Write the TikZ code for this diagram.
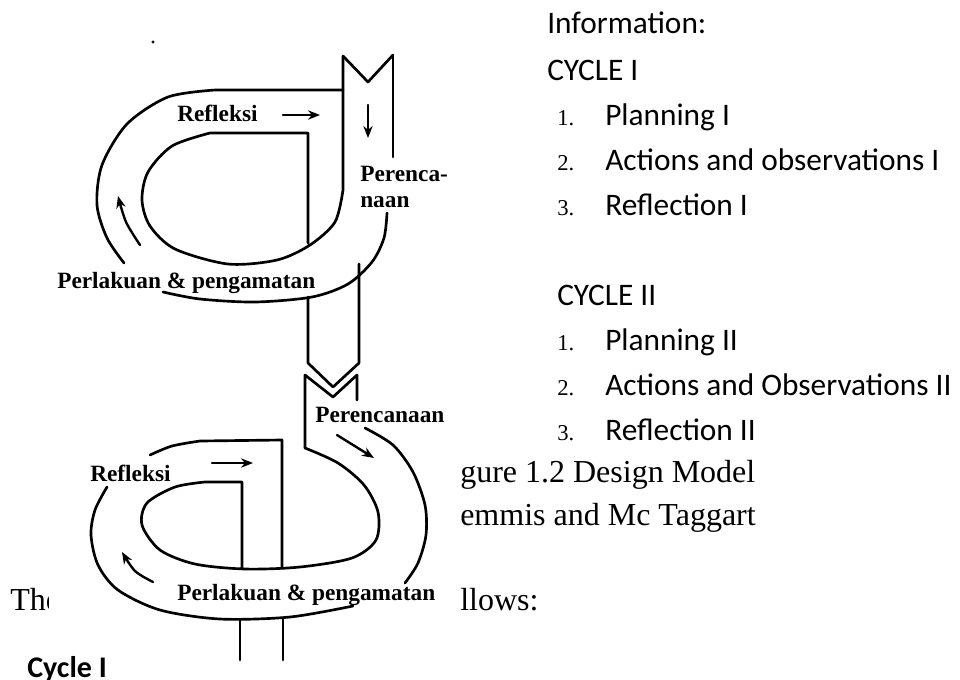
\documentclass[tikz,border=0pt]{standalone}
\usepackage{fontspec}
\setmainfont{Liberation Serif}
\newfontfamily\calfont{Carlito}
\usetikzlibrary{arrows.meta}

\begin{document}
\begin{tikzpicture}[x=0.75pt, y=-0.75pt,
	tube/.style={line width=2pt, line cap=round, line join=round},
	flow/.style={line width=1.8pt, line cap=round, -{Stealth[length=9pt,width=7pt]}},
	looplabel/.style={anchor=base west, inner sep=0pt, font=\bfseries\fontsize{17.5}{20}\selectfont},
	info/.style={anchor=base west, inner sep=0pt, font=\calfont\fontsize{23.5}{28}\selectfont},
	num/.style={anchor=base west, inner sep=0pt, font=\fontsize{17}{20}\selectfont},
	caption/.style={anchor=base west, inner sep=0pt, font=\fontsize{24}{28}\selectfont}]

	\useasboundingbox (0,0) rectangle (960,679);

	% cycle I loop
	\draw[tube] (343,90) -- plot[smooth] coordinates {(215,90) (168,97) (127,124) (102,165) (97,205) (107,238) (124,263)};
	\draw[tube] (343,56) -- plot[smooth] coordinates {(343,190) (335,222) (310,245) (277,260) (228,264) (175,249) (150,226) (142,200) (148,172) (172,146) (210,133)} -- (308,133) -- (308,243);
	\draw[tube] plot[smooth] coordinates {(387,213) (384,238) (372,262) (348,284) (312,297) (255,302) (200,299) (163,292)};
	\draw[tube] (343,56) -- (368,82) -- (393,55);
	\draw[tube] (393,55) -- (393,157);
	\draw[fill=black] (153,42) circle(1.2);

	% tube between the cycles
	\draw[tube] (308,297) -- (308,363) -- (333,387) -- (359,363) -- (359,264);
	\draw[tube] (305,448) -- (305,375) -- (333,397) -- (357,375) -- (357,400);

	% cycle II loop
	\draw[tube] (305,448) -- plot[smooth] coordinates {(305,448) (338,463) (364,485) (378,512) (376,540) (352,558) (300,567) (245,569) (195,564) (160,550) (142,525) (147,503) (175,487) (205,482)} -- (242,482) -- (242,568);
	\draw[tube] (282,568) -- (282,440) -- plot[smooth] coordinates {(200,441) (172,446) (150,455)};
	\draw[tube] plot[smooth] coordinates {(107,487) (95,510) (91,535) (98,565) (118,590) (160,610) (220,619) (290,617) (353,606)};
	\draw[tube] plot[smooth] coordinates {(365,428) (393,445) (413,472) (425,505) (426,535) (418,563) (405,583)};
	\draw[tube] (240,620) -- (240,660);
	\draw[tube] (283,618) -- (283,660);

	% arrows
	\draw[flow] (368,105) -- (368,138);
	\draw[flow] (283,115) -- (320,115);
	\draw[flow] plot[smooth] coordinates {(140,245) (126,222) (118,196)};
	\draw[flow] (212,463) -- (253,463);
	\draw[flow] (337,435) -- (374,458);
	\draw[flow] plot[smooth] coordinates {(153,582) (135,571) (122,552)};

	% loop labels
	\node[looplabel] (refl1) at (177,121) {Refleksi};
	\node[looplabel] (plan1) at (360,181) {Perenca-};
	\node[looplabel] (plan1b) at (360,207) {naan};
	\node[looplabel] (act1) at (57,288) {Perlakuan \& pengamatan};
	\node[looplabel] (plan2) at (315,422) {Perencanaan};
	\node[looplabel] (refl2) at (90,481) {Refleksi};
	\node[looplabel] (act2) at (177,600) {Perlakuan \& pengamatan};

	% information list
	\node[info] (inf) at (547,33) {Information:};
	\node[info] (cyc1) at (547,80) {CYCLE I};
	\node[num] at (557,125) {1.};
	\node[info] (c1a) at (605,125) {Planning I};
	\node[num] at (557,170) {2.};
	\node[info] (c1b) at (605,170) {Actions and observations I};
	\node[num] at (557,215) {3.};
	\node[info] (c1c) at (605,215) {Reflection I};
	\node[info] (cyc2) at (557,305) {CYCLE II};
	\node[num] at (557,350) {1.};
	\node[info] (c2a) at (605,350) {Planning II};
	\node[num] at (557,395) {2.};
	\node[info] (c2b) at (605,395) {Actions and Observations II};
	\node[num] at (557,440) {3.};
	\node[info] (c2c) at (605,440) {Reflection II};

	% text around the figure
	\node[caption] (fig) at (460,482) {gure 1.2 Design Model};
	\node[caption] (kem) at (460,525) {emmis and Mc Taggart};
	\begin{scope}
		\clip (0,570) rectangle (48,630);
		\node[caption] (the) at (10,610) {The};
	\end{scope}
	\node[caption] (fol) at (460,610) {llows:};
	\node[info, font=\calfont\bfseries\fontsize{22.5}{26}\selectfont] (cyc) at (27,677) {Cycle I};

\end{tikzpicture}
\end{document}
